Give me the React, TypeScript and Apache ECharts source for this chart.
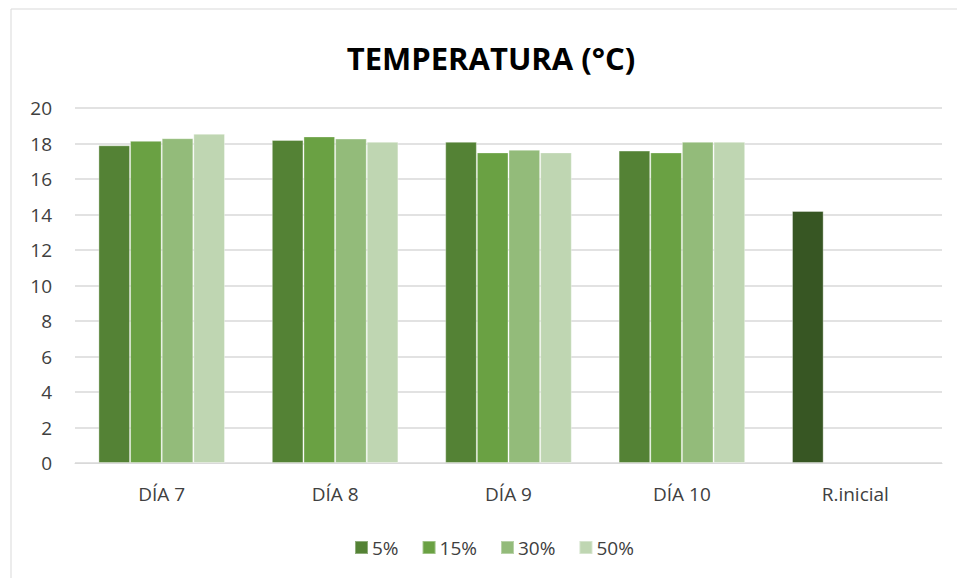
import React, { useEffect, useRef } from "react";
import * as echarts from "echarts";

const categories = ["DÍA 7", "DÍA 8", "DÍA 9", "DÍA 10", "R.inicial"];
const seriesNames = ["5%", "15%", "30%", "50%"];
const values5 = [17.9, 18.2, 18.1, 17.6, 14.2];
const values15 = [18.15, 18.4, 17.5, 17.5, null];
const values30 = [18.3, 18.28, 17.65, 18.1, null];
const values50 = [18.55, 18.1, 17.5, 18.1, null];
const colors = ["#548235", "#6aa143", "#93bb7a", "#bfd6b2"];
const initialColor = "#375623";
const yTicks = { min: 0, max: 20, interval: 2 };
const titleText = "TEMPERATURA (°C)";

export default function App() {
  const ref = useRef<HTMLDivElement>(null);
  useEffect(() => {
    if (!ref.current) return;
    const chart = echarts.init(ref.current, null, { renderer: "svg" });
    const allValues = [values5, values15, values30, values50];
    const font = "'Open Sans', 'Noto Sans', sans-serif";
    chart.setOption({
      animation: false,
      backgroundColor: "#ffffff",
      graphic: [
        {
          type: "rect",
          shape: { x: 11, y: 9, width: 960, height: 600 },
          style: { fill: "none", stroke: "#d9d9d9", lineWidth: 1 },
          silent: true,
        },
        {
          type: "text",
          x: 491,
          y: 58,
          style: {
            text: titleText,
            fontFamily: font,
            fontWeight: "bold",
            fontSize: 31,
            fill: "#000000",
            align: "center",
            verticalAlign: "middle",
          },
          silent: true,
        },
      ],
      legend: {
        data: seriesNames,
        bottom: 16,
        left: 349,
        itemWidth: 13,
        itemHeight: 13,
        itemGap: 23,
        icon: "rect",
        textStyle: { fontFamily: font, fontSize: 19, color: "#404040", padding: [0, 0, 0, -1] },
      },
      grid: { left: 75, right: 15, top: 108, bottom: 115, containLabel: false },
      xAxis: {
        type: "category",
        data: categories,
        axisLine: { lineStyle: { color: "#d9d9d9", width: 1 } },
        axisTick: { show: false },
        axisLabel: { fontFamily: font, fontSize: 19, color: "#404040", margin: 21 },
      },
      yAxis: {
        type: "value",
        min: yTicks.min,
        max: yTicks.max,
        interval: yTicks.interval,
        axisLine: { show: false },
        axisTick: { show: false },
        splitLine: { lineStyle: { color: "#d9d9d9", width: 1.5 } },
        axisLabel: { fontFamily: font, fontSize: 19, color: "#404040", margin: 23 },
      },
      series: seriesNames.map((name, i) => ({
        name,
        type: "bar",
        barGap: "0%",
        barCategoryGap: "27%",
        itemStyle: { color: colors[i], borderColor: "rgba(255,255,255,0.35)", borderWidth: 1 },
        data: allValues[i].map((v, j) =>
          i === 0 && j === categories.length - 1
            ? { value: v, itemStyle: { color: initialColor } }
            : v
        ),
      })),
    });
    return () => chart.dispose();
  }, []);
  return (
    <div
      ref={ref}
      style={{ position: "absolute", left: 0, top: 0, width: 957, height: 578 }}
    />
  );
}
